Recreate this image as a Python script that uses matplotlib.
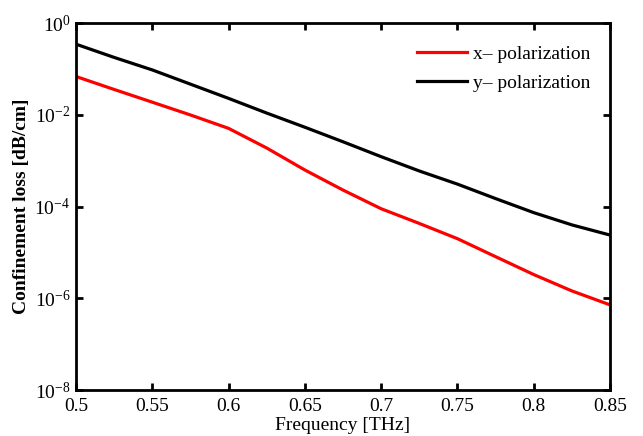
import numpy as np
import matplotlib
matplotlib.use("Agg")
import matplotlib.pyplot as plt
from matplotlib.ticker import LogLocator, NullLocator

plt.rcParams["font.family"] = ["Liberation Serif", "DejaVu Serif"]
plt.rcParams["mathtext.fontset"] = "stix"

# Frequency sweep [THz] and confinement loss [dB/cm] for both polarizations
freq = [0.5, 0.525, 0.55, 0.575, 0.6, 0.625, 0.65, 0.675, 0.7,
        0.725, 0.75, 0.775, 0.8, 0.825, 0.85]
loss_x = [6.9e-2, 3.6e-2, 1.9e-2, 1.0e-2, 5.1e-3, 1.9e-3, 6.3e-4, 2.3e-4, 9.0e-5,
          4.3e-5, 2.0e-5, 8.1e-6, 3.3e-6, 1.45e-6, 7.2e-7]
loss_y = [3.5e-1, 1.8e-1, 9.6e-2, 4.7e-2, 2.3e-2, 1.1e-2, 5.4e-3, 2.6e-3, 1.23e-3,
          6.0e-4, 3.1e-4, 1.5e-4, 7.4e-5, 4.0e-5, 2.4e-5]

fig = plt.figure(figsize=(6.43, 4.36), dpi=100)
ax = fig.add_axes([0.1182, 0.1055, 0.8305, 0.8411])

ax.semilogy(freq, loss_x, color="red", linewidth=2.3, label="x\u2013 polarization")
ax.semilogy(freq, loss_y, color="black", linewidth=2.3, label="y\u2013 polarization")

ax.set_xlim(0.5, 0.85)
ax.set_ylim(1e-8, 1e0)
ax.set_xticks(np.arange(0.5, 0.851, 0.05))
ax.set_xticklabels(["0.5", "0.55", "0.6", "0.65", "0.7", "0.75", "0.8", "0.85"])
ax.yaxis.set_major_locator(LogLocator(base=100.0, numticks=10))
ax.yaxis.set_minor_locator(NullLocator())

for s in ax.spines.values():
    s.set_linewidth(2.0)
ax.tick_params(direction="in", length=5, width=2, top=True, right=True,
               labelsize=14, pad=4)
ax.tick_params(axis="x", pad=6)

ax.set_xlabel("Frequency [THz]", fontsize=14, labelpad=1.5)
ax.set_ylabel("Confinement loss [dB/cm]", fontsize=14, fontweight="bold", labelpad=3)

ax.legend(loc="upper right", frameon=False, fontsize=14, handlelength=2.6,
          handletextpad=0.3, borderaxespad=0.75, labelspacing=0.55,
          bbox_to_anchor=(1.005, 1.0))

fig.savefig("out.png", dpi=100)
